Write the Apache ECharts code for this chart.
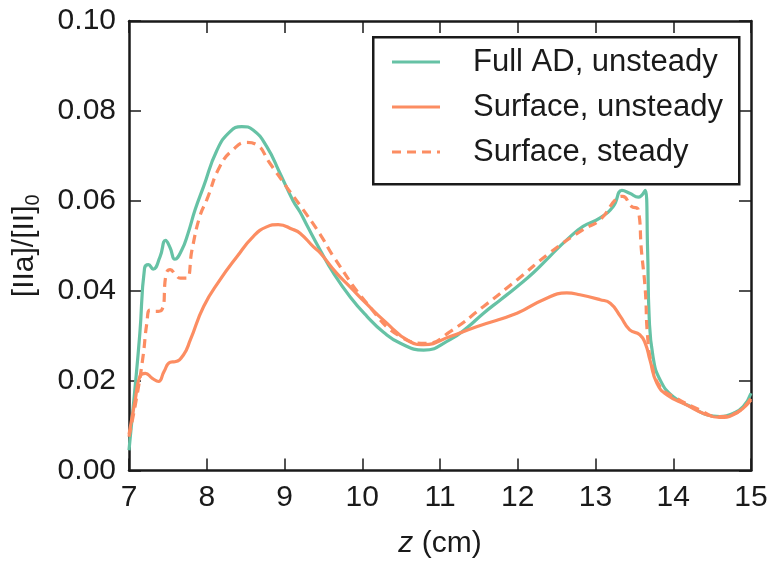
<!DOCTYPE html>
<html><head><meta charset="utf-8">
<script src="https://cdn.jsdelivr.net/npm/echarts@6/dist/echarts.min.js"></script>
<style>html,body{margin:0;padding:0;background:#fff}#c{width:778px;height:568px}</style>
</head><body><div id="c"></div>
<script>
const xTicks = [7, 8, 9, 10, 11, 12, 13, 14, 15];
const yTicks = [0, 0.02, 0.04, 0.06, 0.08, 0.10];
const seriesNames = ['Full AD, unsteady', 'Surface, unsteady', 'Surface, steady'];

const fullZ = [7.00,7.07,7.14,7.20,7.25,7.31,7.40,7.47,7.53,7.59,7.68,7.76,7.85,7.96,8.13,8.30,8.45,8.60,8.77,8.94,9.11,9.20,9.29,9.46,9.63,9.85,10.06,10.27,10.49,10.79,11.13,11.35,11.56,11.78,11.99,12.20,12.41,12.63,12.84,13.06,13.23,13.34,13.44,13.55,13.64,13.67,13.69,13.74,13.83,14.00,14.26,14.43,14.60,14.77,14.90,15.00];
const fullY = [0.0045,0.0170,0.0306,0.0450,0.0458,0.0448,0.0476,0.0512,0.0495,0.0470,0.0491,0.0528,0.0580,0.0632,0.0712,0.0754,0.0765,0.0757,0.0721,0.0662,0.0600,0.0575,0.0545,0.0490,0.0439,0.0385,0.0343,0.0308,0.0283,0.0268,0.0291,0.0318,0.0350,0.0380,0.0409,0.0440,0.0476,0.0513,0.0543,0.0562,0.0588,0.0623,0.0617,0.0608,0.0623,0.0491,0.0343,0.0253,0.0202,0.0164,0.0139,0.0124,0.0120,0.0127,0.0142,0.0172];

const surfZ = [7.00,7.08,7.14,7.21,7.30,7.38,7.45,7.53,7.59,7.70,7.79,7.96,8.17,8.39,8.60,8.77,8.92,9.11,9.20,9.37,9.46,9.67,9.84,10.06,10.27,10.61,10.79,11.13,11.47,11.99,12.33,12.63,12.80,13.06,13.19,13.32,13.44,13.57,13.64,13.70,13.79,13.92,14.17,14.39,14.60,14.77,15.00];
const surfY = [0.0080,0.0157,0.0209,0.0216,0.0205,0.0198,0.0220,0.0241,0.0242,0.0257,0.0291,0.0365,0.0424,0.0476,0.0521,0.0542,0.0547,0.0536,0.0528,0.0498,0.0484,0.0439,0.0409,0.0370,0.0335,0.0287,0.0280,0.0298,0.0320,0.0350,0.0380,0.0395,0.0391,0.0380,0.0372,0.0343,0.0313,0.0302,0.0283,0.0246,0.0194,0.0168,0.0146,0.0127,0.0118,0.0124,0.0157];

const steadyZ = [7.00,7.10,7.18,7.23,7.27,7.33,7.42,7.48,7.53,7.60,7.66,7.74,7.81,7.91,8.00,8.17,8.34,8.51,8.64,8.81,9.03,9.20,9.46,9.63,10.06,10.49,10.83,11.13,11.56,11.99,12.41,12.84,13.06,13.27,13.35,13.46,13.55,13.59,13.64,13.67,13.72,13.83,14.04,14.34,14.56,14.77,15.00];
const steadyY = [0.0075,0.0164,0.0253,0.0328,0.0357,0.0354,0.0357,0.0439,0.0447,0.0435,0.0428,0.0428,0.0491,0.0565,0.0602,0.0677,0.0714,0.0730,0.0725,0.0684,0.0630,0.0590,0.0525,0.0476,0.0372,0.0298,0.0283,0.0309,0.0365,0.0424,0.0484,0.0536,0.0558,0.0605,0.0610,0.0588,0.0580,0.0491,0.0402,0.0298,0.0239,0.0187,0.0161,0.0135,0.0120,0.0125,0.0161];

const pairs = (xs, ys) => xs.map((x, i) => [x, ys[i]]);
const GREEN = '#66c2a5', ORANGE = '#fc8d62', INK = '#1a1a1a';
const FONT = 'Liberation Sans';
const seriesColors = [GREEN, ORANGE, ORANGE];
const seriesDash = ['solid', 'solid', [9, 6]];

const axisCommon = {
  axisLine: { show: true, onZero: false, lineStyle: { color: INK, width: 2.5 } },
  axisTick: { show: true, inside: true, length: 12, lineStyle: { color: INK, width: 1.5 } },
  splitLine: { show: false }
};

// legend drawn as graphic: box + sample line + label per entry
const legendGraphic = [{
  type: 'rect', left: 372, top: 36, z: 10,
  shape: { width: 366, height: 147 },
  style: { fill: '#fff', stroke: INK, lineWidth: 2.5 }
}];
seriesNames.forEach((n, i) => {
  const cy = 62 + i * 45;
  legendGraphic.push({
    type: 'line', z: 11,
    shape: { x1: 392, y1: cy, x2: 440, y2: cy },
    style: { stroke: seriesColors[i], lineWidth: 3, lineDash: seriesDash[i] === 'solid' ? null : seriesDash[i] }
  });
  legendGraphic.push({
    type: 'text', z: 11, x: 473, y: cy,
    style: { text: n, fontSize: 31, fontFamily: FONT, fill: INK, verticalAlign: 'middle', align: 'left' }
  });
});

const chart = echarts.init(document.getElementById('c'), null, { renderer: 'canvas' });
chart.setOption({
  animation: false,
  backgroundColor: '#fff',
  textStyle: { fontFamily: FONT },
  grid: { left: 129, right: 27, top: 21, bottom: 97.5, containLabel: false },
  xAxis: [
    Object.assign({
      type: 'value', min: xTicks[0], max: xTicks[xTicks.length - 1], interval: 1, position: 'bottom',
      axisLabel: { show: true, margin: 12, fontSize: 30, color: INK, fontFamily: FONT },
      name: '{i|z} (cm)', nameLocation: 'middle', nameGap: 58,
      nameTextStyle: { fontSize: 30, color: INK, fontFamily: FONT,
        rich: { i: { fontSize: 30, fontStyle: 'italic', color: INK, fontFamily: FONT } } }
    }, axisCommon),
    Object.assign({
      type: 'value', min: xTicks[0], max: xTicks[xTicks.length - 1], interval: 1, position: 'top',
      axisLabel: { show: false }
    }, axisCommon)
  ],
  yAxis: [
    Object.assign({
      type: 'value', min: yTicks[0], max: yTicks[yTicks.length - 1], interval: 0.02, position: 'left',
      axisLabel: { show: true, margin: 13, fontSize: 30, color: INK, fontFamily: FONT,
        formatter: v => v.toFixed(2) },
      name: '[IIa]/[II]{s|0}', nameLocation: 'middle', nameGap: 86, nameRotate: 90,
      nameTextStyle: { fontSize: 30, color: INK, fontFamily: FONT,
        rich: { s: { fontSize: 20, color: INK, fontFamily: FONT, padding: [16, 0, 0, 0] } } }
    }, axisCommon),
    Object.assign({
      type: 'value', min: yTicks[0], max: yTicks[yTicks.length - 1], interval: 0.02, position: 'right',
      axisLabel: { show: false }
    }, axisCommon)
  ],
  graphic: legendGraphic,
  series: [
    { name: seriesNames[0], type: 'line', data: pairs(fullZ, fullY), symbol: 'none', smooth: 0.5,
      lineStyle: { color: GREEN, width: 3.2 }, itemStyle: { color: GREEN }, z: 3 },
    { name: seriesNames[1], type: 'line', data: pairs(surfZ, surfY), symbol: 'none', smooth: 0.5,
      lineStyle: { color: ORANGE, width: 3.2 }, itemStyle: { color: ORANGE }, z: 4 },
    { name: seriesNames[2], type: 'line', data: pairs(steadyZ, steadyY), symbol: 'none', smooth: 0.5,
      lineStyle: { color: ORANGE, width: 3.2, type: [9, 6] }, itemStyle: { color: ORANGE }, z: 4 }
  ]
});
</script></body></html>
